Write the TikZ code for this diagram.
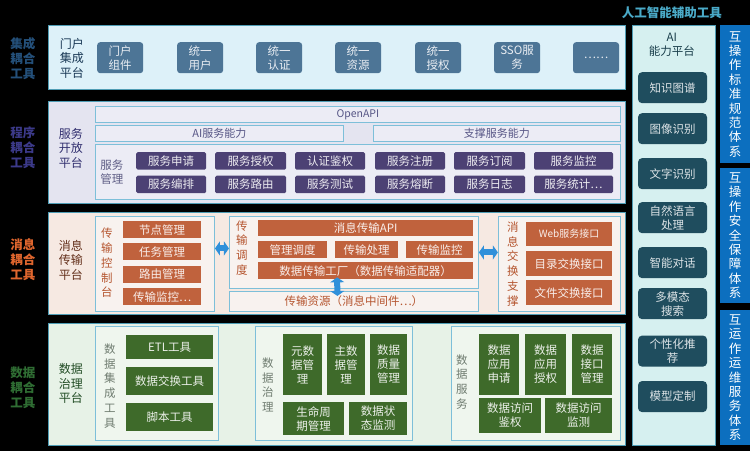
\documentclass[tikz,border=0pt]{standalone}
\usepackage{fontspec}
\setmainfont{Noto Sans CJK SC}
\usepackage{xcolor}
\usepackage{tikz}
\usetikzlibrary{arrows.meta}
\definecolor{layerline}{HTML}{4F9DB5}
\definecolor{panelline}{HTML}{7DBFD9}
\definecolor{lone}{HTML}{DDF1F9}
\definecolor{ltwo}{HTML}{E4E4F0}
\definecolor{lthree}{HTML}{F6E9E2}
\definecolor{lfour}{HTML}{E7F2E7}
\definecolor{ptwo}{HTML}{ECECF5}
\definecolor{pthree}{HTML}{F8F2EF}
\definecolor{pfour}{HTML}{EFF6EE}
\definecolor{portalc}{HTML}{4D7596}
\definecolor{svcc}{HTML}{4C4174}
\definecolor{msgc}{HTML}{C0623D}
\definecolor{datc}{HTML}{3E6A2A}
\definecolor{aic}{HTML}{1F4D5E}
\definecolor{aipanel}{HTML}{D6F0F0}
\definecolor{specc}{HTML}{0C6FBF}
\definecolor{arrc}{HTML}{3090DA}
\definecolor{cone}{HTML}{24507A}
\definecolor{ctwo}{HTML}{3C3A8A}
\definecolor{cthree}{HTML}{E0662E}
\definecolor{cfour}{HTML}{2F6D33}
\definecolor{titlec}{HTML}{4AAAC8}
\definecolor{sienna}{HTML}{B5552F}

\begin{document}
\begin{tikzpicture}[x=1pt,y=-1pt,
    every node/.style={inner sep=0pt,align=center,font=\fontsize{11.5}{14}\selectfont},
    box/.style 2 args={anchor=north west,minimum width=#1,minimum height=#2},
    layer/.style={draw=layerline,line width=1.3pt},
    panel/.style={draw=panelline,line width=1pt},
    tool/.style={font=\bfseries\fontsize{12.5}{15}\selectfont},
    plat/.style={font=\fontsize{12}{14.5}\selectfont},
    vert/.style={font=\fontsize{11.5}{14.8}\selectfont},
    portal/.style={fill=portalc,text=white!88!portalc,rounded corners=3pt},
    svc/.style={fill=svcc,text=white!90!svcc,rounded corners=1.5pt},
    msg/.style={fill=msgc,text=white!90!msgc},
    dat/.style={fill=datc,text=white!90!datc},
    aibox/.style={fill=aic,text=white!85!aic,rounded corners=4pt},
    spec/.style={fill=specc,text=white,font=\fontsize{12.5}{14.4}\selectfont},
    dbl/.style={{Triangle[length=5pt,width=14pt]}-{Triangle[length=5pt,width=14pt]},
      line width=6pt,draw=arrc}]
  \fill[black] (0,0) rectangle (750,451);

  % 集成耦合
  \node[layer,fill=lone,box={577}{64}] (L1) at (48,25) {};
  \node[tool,text=cone] (t1) at (23,59) {集成\\耦合\\工具};
  \node[plat,text=cone!70!black] (n1) at (72,58) {门户\\集成\\平台};
  \node[portal,box={46}{31}] (p1) at (97,42) {门户\\组件};
  \node[portal,box={46}{31}] (p2) at (177,42) {统一\\用户};
  \node[portal,box={46}{31}] (p3) at (256,42) {统一\\认证};
  \node[portal,box={46}{31}] (p4) at (335,42) {统一\\资源};
  \node[portal,box={46}{31}] (p5) at (415,42) {统一\\授权};
  \node[portal,box={46}{31}] (p6) at (494,42) {SSO服\\务};
  \node[portal,box={46}{31}] (p7) at (573,42) {……};

  % 程序耦合
  \node[layer,fill=ltwo,box={577}{102}] (L2) at (48,101) {};
  \node[tool,text=ctwo] (t2) at (23,148) {程序\\耦合\\工具};
  \node[plat,text=ctwo!80!black] (n2) at (71,148) {服务\\开放\\平台};
  \node[panel,fill=ptwo,box={525}{16},text=ctwo!60!gray,font=\fontsize{10.5}{12}\selectfont] (api) at (95,106) {OpenAPI};
  \node[panel,fill=ptwo,box={248}{16},text=ctwo!60!gray,font=\fontsize{11}{12}\selectfont] (ai) at (95,125) {AI服务能力};
  \node[panel,fill=ptwo,box={247}{16},text=ctwo!60!gray,font=\fontsize{11}{12}\selectfont] (sup) at (373,125) {支撑服务能力};
  \node[panel,fill=ptwo,box={525}{55}] (mgr) at (95,144) {};
  \node[text=ctwo!50!gray] (mgrl) at (112,172) {服务\\管理};
  \node[svc,box={70}{17.5}] (s1) at (136,152) {服务申请};
  \node[svc,box={71}{17.5}] (s2) at (215,152) {服务授权};
  \node[svc,box={70}{17.5}] (s3) at (295,152) {认证鉴权};
  \node[svc,box={70}{17.5}] (s4) at (375,152) {服务注册};
  \node[svc,box={71}{17.5}] (s5) at (454,152) {服务订阅};
  \node[svc,box={79}{17.5}] (s6) at (534,152) {服务监控};
  \node[svc,box={70}{17.5}] (s7) at (136,175.5) {服务编排};
  \node[svc,box={71}{17.5}] (s8) at (215,175.5) {服务路由};
  \node[svc,box={70}{17.5}] (s9) at (295,175.5) {服务测试};
  \node[svc,box={70}{17.5}] (s10) at (375,175.5) {服务熔断};
  \node[svc,box={71}{17.5}] (s11) at (454,175.5) {服务日志};
  \node[svc,box={79}{17.5}] (s12) at (534,175.5) {服务统计…};

  % 消息耦合
  \node[layer,fill=lthree,box={577}{102}] (L3) at (48,212) {};
  \node[tool,text=cthree] (t3) at (23,260) {消息\\耦合\\工具};
  \node[plat,text=sienna!55!black] (n3) at (71,260) {消息\\传输\\平台};
  \node[panel,fill=pthree,box={119}{95}] (ctrl) at (95,216) {};
  \node[vert,text=sienna] (ctrll) at (107,263) {传\\输\\控\\制\\台};
  \node[msg,box={78}{17}] (m1) at (123,221) {节点管理};
  \node[msg,box={78}{17}] (m2) at (123,243) {任务管理};
  \node[msg,box={78}{17}] (m3) at (123,265.5) {路由管理};
  \node[msg,box={78}{17}] (m4) at (123,288) {传输监控…};
  \node[panel,fill=pthree,box={249}{72}] (sched) at (229,216) {};
  \node[vert,text=sienna] (schedl) at (242,248) {传\\输\\调\\度};
  \node[msg,box={215}{16}] (mapi) at (258,220) {消息传输API};
  \node[msg,box={69}{17}] (m5) at (258,241) {管理调度};
  \node[msg,box={63}{17}] (m6) at (335,241) {传输处理};
  \node[msg,box={67}{17}] (m7) at (406,241) {传输监控};
  \node[msg,box={215}{17}] (fac) at (258,262) {数据传输工厂（数据传输适配器）};
  \node[panel,fill=pthree,box={249}{20},text=sienna] (res) at (229,291) {传输资源（消息中间件…）};
  \node[panel,fill=pthree,box={122}{95}] (exch) at (498,216) {};
  \node[vert,text=sienna] (exchl) at (513,264) {消\\息\\交\\换\\支\\撑};
  \node[msg,box={86}{24},font=\fontsize{10}{12}\selectfont] (x1) at (526,222) {Web服务接口};
  \node[msg,box={86}{25}] (x2) at (526,251) {目录交换接口};
  \node[msg,box={86}{25}] (x3) at (526,280) {文件交换接口};
  \draw[dbl] ([yshift=15.5pt]ctrl.east) -- ([yshift=4pt]sched.west);
  \draw[dbl] (sched.east) -- ([yshift=11.5pt]exch.west);
  \draw[dbl] ([xshift=-28.5pt,yshift=2pt]fac.south) -- ([xshift=-16.5pt,yshift=-5pt]res.north);

  % 数据耦合
  \node[layer,fill=lfour,box={577}{122}] (L4) at (48,323) {};
  \node[tool,text=cfour] (t4) at (23,388) {数据\\耦合\\工具};
  \node[plat,text=cfour!70!black] (n4) at (71,384) {数据\\治理\\平台};
  \node[panel,fill=pfour,box={123}{114}] (int) at (95,326) {};
  \node[vert,text=gray!80!cfour] (intl) at (110,386) {数\\据\\集\\成\\工\\具};
  \node[dat,box={87}{24}] (d1) at (126,335) {ETL工具};
  \node[dat,box={87}{28}] (d2) at (126,367) {数据交换工具};
  \node[dat,box={87}{28}] (d3) at (126,403) {脚本工具};
  \node[panel,fill=pfour,box={157}{114}] (gov) at (255,326) {};
  \node[vert,text=gray!80!cfour] (govl) at (268,385) {数\\据\\治\\理};
  \node[dat,box={39}{61}] (d4) at (283,334) {元数\\据管\\理};
  \node[dat,box={38}{61}] (d5) at (327,334) {主数\\据管\\理};
  \node[dat,box={37}{61}] (d6) at (370,334) {数据\\质量\\管理};
  \node[dat,box={61}{33}] (d7) at (283,402) {生命周\\期管理};
  \node[dat,box={58}{33}] (d8) at (349,402) {数据状\\态监测};
  \node[panel,fill=pfour,box={169}{114}] (dsvc) at (451,326) {};
  \node[vert,text=gray!80!cfour] (dsvcl) at (462,382) {数\\据\\服\\务};
  \node[dat,box={40}{61}] (d9) at (479,334) {数据\\应用\\申请};
  \node[dat,box={41}{61}] (d10) at (525,334) {数据\\应用\\授权};
  \node[dat,box={40}{61}] (d11) at (572,334) {数据\\接口\\管理};
  \node[dat,box={62}{35}] (d12) at (479,398) {数据访问\\鉴权};
  \node[dat,box={67}{35}] (d13) at (545,398) {数据访问\\监测};

  % 人工智能辅助
  \node[tool,text=titlec] (aitl) at (672,13) {人工智能辅助工具};
  \node[layer,fill=aipanel,box={83}{420}] (aip) at (632,25) {};
  \node[text=aic!80!black] (aipl) at (672,45) {AI\\能力平台};
  \node[aibox,box={69}{31}] (a1) at (638,72) {知识图谱};
  \node[aibox,box={69}{31}] (a2) at (638,113) {图像识别};
  \node[aibox,box={69}{31}] (a3) at (638,158) {文字识别};
  \node[aibox,box={69}{31}] (a4) at (638,202) {自然语言\\处理};
  \node[aibox,box={69}{31}] (a5) at (638,247) {智能对话};
  \node[aibox,box={69}{31}] (a6) at (638,288) {多模态\\搜索};
  \node[aibox,box={69}{31}] (a7) at (638,335.5) {个性化推\\荐};
  \node[aibox,box={69}{31}] (a8) at (638,381) {模型定制};

  % 体系
  \node[spec,box={30}{138}] (r1) at (720,25) {互\\操\\作\\标\\准\\规\\范\\体\\系};
  \node[spec,box={30}{135}] (r2) at (720,168) {互\\操\\作\\安\\全\\保\\障\\体\\系};
  \node[spec,box={30}{135}] (r3) at (720,310) {互\\运\\作\\运\\维\\服\\务\\体\\系};
\end{tikzpicture}
\end{document}
